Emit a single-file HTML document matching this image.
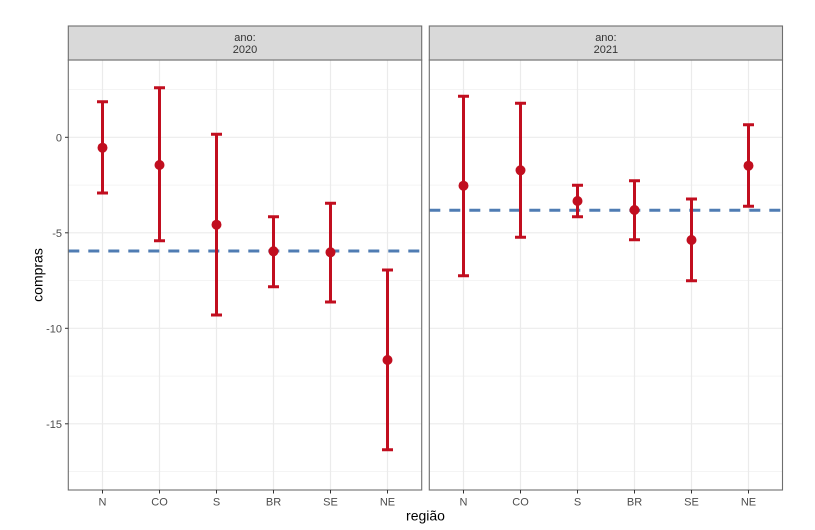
<!DOCTYPE html>
<html>
<head>
<meta charset="utf-8">
<style>
html,body{margin:0;padding:0;background:#fff;}
svg{display:block;}
text{font-family:"Liberation Sans",Arial,sans-serif;}
</style>
</head>
<body>
<svg width="815" height="530" viewBox="0 0 815 530" xmlns="http://www.w3.org/2000/svg">
<rect width="815" height="530" fill="#fff"/>

<!-- Panel 1 -->
<g>
  <rect x="68.3" y="60" width="353.4" height="430" fill="#fff"/>
  <!-- minor grid -->
  <g stroke="#f0f0f0" stroke-width="0.8">
    <line x1="68.3" x2="421.7" y1="89.6" y2="89.6"/>
    <line x1="68.3" x2="421.7" y1="185.1" y2="185.1"/>
    <line x1="68.3" x2="421.7" y1="280.6" y2="280.6"/>
    <line x1="68.3" x2="421.7" y1="376.1" y2="376.1"/>
    <line x1="68.3" x2="421.7" y1="471.6" y2="471.6"/>
  </g>
  <g stroke="#ebebeb" stroke-width="1.2">
    <line x1="68.3" x2="421.7" y1="137.3" y2="137.3"/>
    <line x1="68.3" x2="421.7" y1="232.8" y2="232.8"/>
    <line x1="68.3" x2="421.7" y1="328.3" y2="328.3"/>
    <line x1="68.3" x2="421.7" y1="423.8" y2="423.8"/>
    <line x1="102.5" x2="102.5" y1="60" y2="490"/>
    <line x1="159.5" x2="159.5" y1="60" y2="490"/>
    <line x1="216.5" x2="216.5" y1="60" y2="490"/>
    <line x1="273.5" x2="273.5" y1="60" y2="490"/>
    <line x1="330.5" x2="330.5" y1="60" y2="490"/>
    <line x1="387.5" x2="387.5" y1="60" y2="490"/>
  </g>
  <!-- hline -->
  <line x1="68.3" x2="421.7" y1="251" y2="251" stroke="#4f7cb3" stroke-width="3" stroke-dasharray="11 9"/>
  <!-- error bars -->
  <g stroke="#c10e1f" stroke-width="3" fill="none">
    <path d="M102.5 101.7V193 M97 101.7H108 M97 193H108"/>
    <path d="M159.5 87.7V240.7 M154 87.7H165 M154 240.7H165"/>
    <path d="M216.5 134.3V315 M211 134.3H222 M211 315H222"/>
    <path d="M273.5 216.7V286.7 M268 216.7H279 M268 286.7H279"/>
    <path d="M330.5 203.3V302 M325 203.3H336 M325 302H336"/>
    <path d="M387.5 270V449.7 M382 270H393 M382 449.7H393"/>
  </g>
  <g fill="#c10e1f">
    <circle cx="102.5" cy="147.7" r="5"/>
    <circle cx="159.5" cy="165" r="5"/>
    <circle cx="216.5" cy="224.7" r="5"/>
    <circle cx="273.5" cy="251.3" r="5"/>
    <circle cx="330.5" cy="252.3" r="5"/>
    <circle cx="387.5" cy="360" r="5"/>
  </g>
  <rect x="68.3" y="60" width="353.4" height="430" fill="none" stroke="#6e6e6e" stroke-width="1.1"/>
  <!-- strip -->
  <rect x="68.3" y="26" width="353.4" height="34" fill="#d9d9d9" stroke="#6e6e6e" stroke-width="1.1"/>
  <text x="245" y="41" font-size="11" fill="#333" text-anchor="middle">ano:</text>
  <text x="245" y="53" font-size="11" fill="#333" text-anchor="middle">2020</text>
</g>

<!-- Panel 2 -->
<g>
  <rect x="429.3" y="60" width="353.2" height="430" fill="#fff"/>
  <g stroke="#f0f0f0" stroke-width="0.8">
    <line x1="429.3" x2="782.5" y1="89.6" y2="89.6"/>
    <line x1="429.3" x2="782.5" y1="185.1" y2="185.1"/>
    <line x1="429.3" x2="782.5" y1="280.6" y2="280.6"/>
    <line x1="429.3" x2="782.5" y1="376.1" y2="376.1"/>
    <line x1="429.3" x2="782.5" y1="471.6" y2="471.6"/>
  </g>
  <g stroke="#ebebeb" stroke-width="1.2">
    <line x1="429.3" x2="782.5" y1="137.3" y2="137.3"/>
    <line x1="429.3" x2="782.5" y1="232.8" y2="232.8"/>
    <line x1="429.3" x2="782.5" y1="328.3" y2="328.3"/>
    <line x1="429.3" x2="782.5" y1="423.8" y2="423.8"/>
    <line x1="463.5" x2="463.5" y1="60" y2="490"/>
    <line x1="520.5" x2="520.5" y1="60" y2="490"/>
    <line x1="577.5" x2="577.5" y1="60" y2="490"/>
    <line x1="634.5" x2="634.5" y1="60" y2="490"/>
    <line x1="691.5" x2="691.5" y1="60" y2="490"/>
    <line x1="748.5" x2="748.5" y1="60" y2="490"/>
  </g>
  <line x1="429.3" x2="782.5" y1="210.3" y2="210.3" stroke="#4f7cb3" stroke-width="3" stroke-dasharray="11 9"/>
  <g stroke="#c10e1f" stroke-width="3" fill="none">
    <path d="M463.5 96.3V275.7 M458 96.3H469 M458 275.7H469"/>
    <path d="M520.5 103.3V237.3 M515 103.3H526 M515 237.3H526"/>
    <path d="M577.5 185.3V216.7 M572 185.3H583 M572 216.7H583"/>
    <path d="M634.5 180.7V239.7 M629 180.7H640 M629 239.7H640"/>
    <path d="M691.5 199V280.7 M686 199H697 M686 280.7H697"/>
    <path d="M748.5 124.7V206.3 M743 124.7H754 M743 206.3H754"/>
  </g>
  <g fill="#c10e1f">
    <circle cx="463.5" cy="185.7" r="5"/>
    <circle cx="520.5" cy="170.3" r="5"/>
    <circle cx="577.5" cy="201" r="5"/>
    <circle cx="634.5" cy="210" r="5"/>
    <circle cx="691.5" cy="240" r="5"/>
    <circle cx="748.5" cy="165.7" r="5"/>
  </g>
  <rect x="429.3" y="60" width="353.2" height="430" fill="none" stroke="#6e6e6e" stroke-width="1.1"/>
  <rect x="429.3" y="26" width="353.2" height="34" fill="#d9d9d9" stroke="#6e6e6e" stroke-width="1.1"/>
  <text x="605.9" y="41" font-size="11" fill="#333" text-anchor="middle">ano:</text>
  <text x="605.9" y="53" font-size="11" fill="#333" text-anchor="middle">2021</text>
</g>

<!-- Y axis ticks -->
<g stroke="#333" stroke-width="1">
  <line x1="65" x2="68.3" y1="137.3" y2="137.3"/>
  <line x1="65" x2="68.3" y1="232.8" y2="232.8"/>
  <line x1="65" x2="68.3" y1="328.3" y2="328.3"/>
  <line x1="65" x2="68.3" y1="423.8" y2="423.8"/>
</g>
<g font-size="11" fill="#4d4d4d" text-anchor="end">
  <text x="62" y="141.3">0</text>
  <text x="62" y="236.8">-5</text>
  <text x="62" y="332.3">-10</text>
  <text x="62" y="427.8">-15</text>
</g>

<!-- X axis ticks -->
<g stroke="#333" stroke-width="1">
  <line x1="102.5" x2="102.5" y1="490" y2="493.5"/>
  <line x1="159.5" x2="159.5" y1="490" y2="493.5"/>
  <line x1="216.5" x2="216.5" y1="490" y2="493.5"/>
  <line x1="273.5" x2="273.5" y1="490" y2="493.5"/>
  <line x1="330.5" x2="330.5" y1="490" y2="493.5"/>
  <line x1="387.5" x2="387.5" y1="490" y2="493.5"/>
  <line x1="463.5" x2="463.5" y1="490" y2="493.5"/>
  <line x1="520.5" x2="520.5" y1="490" y2="493.5"/>
  <line x1="577.5" x2="577.5" y1="490" y2="493.5"/>
  <line x1="634.5" x2="634.5" y1="490" y2="493.5"/>
  <line x1="691.5" x2="691.5" y1="490" y2="493.5"/>
  <line x1="748.5" x2="748.5" y1="490" y2="493.5"/>
</g>
<g font-size="11" fill="#4d4d4d" text-anchor="middle">
  <text x="102.5" y="505.5">N</text>
  <text x="159.5" y="505.5">CO</text>
  <text x="216.5" y="505.5">S</text>
  <text x="273.5" y="505.5">BR</text>
  <text x="330.5" y="505.5">SE</text>
  <text x="387.5" y="505.5">NE</text>
  <text x="463.5" y="505.5">N</text>
  <text x="520.5" y="505.5">CO</text>
  <text x="577.5" y="505.5">S</text>
  <text x="634.5" y="505.5">BR</text>
  <text x="691.5" y="505.5">SE</text>
  <text x="748.5" y="505.5">NE</text>
</g>

<!-- Axis titles -->
<text x="425.5" y="520.5" font-size="14" fill="#000" text-anchor="middle">região</text>
<text x="0" y="0" font-size="14" fill="#000" text-anchor="middle" transform="translate(42.5,275) rotate(-90)">compras</text>
</svg>
</body>
</html>
